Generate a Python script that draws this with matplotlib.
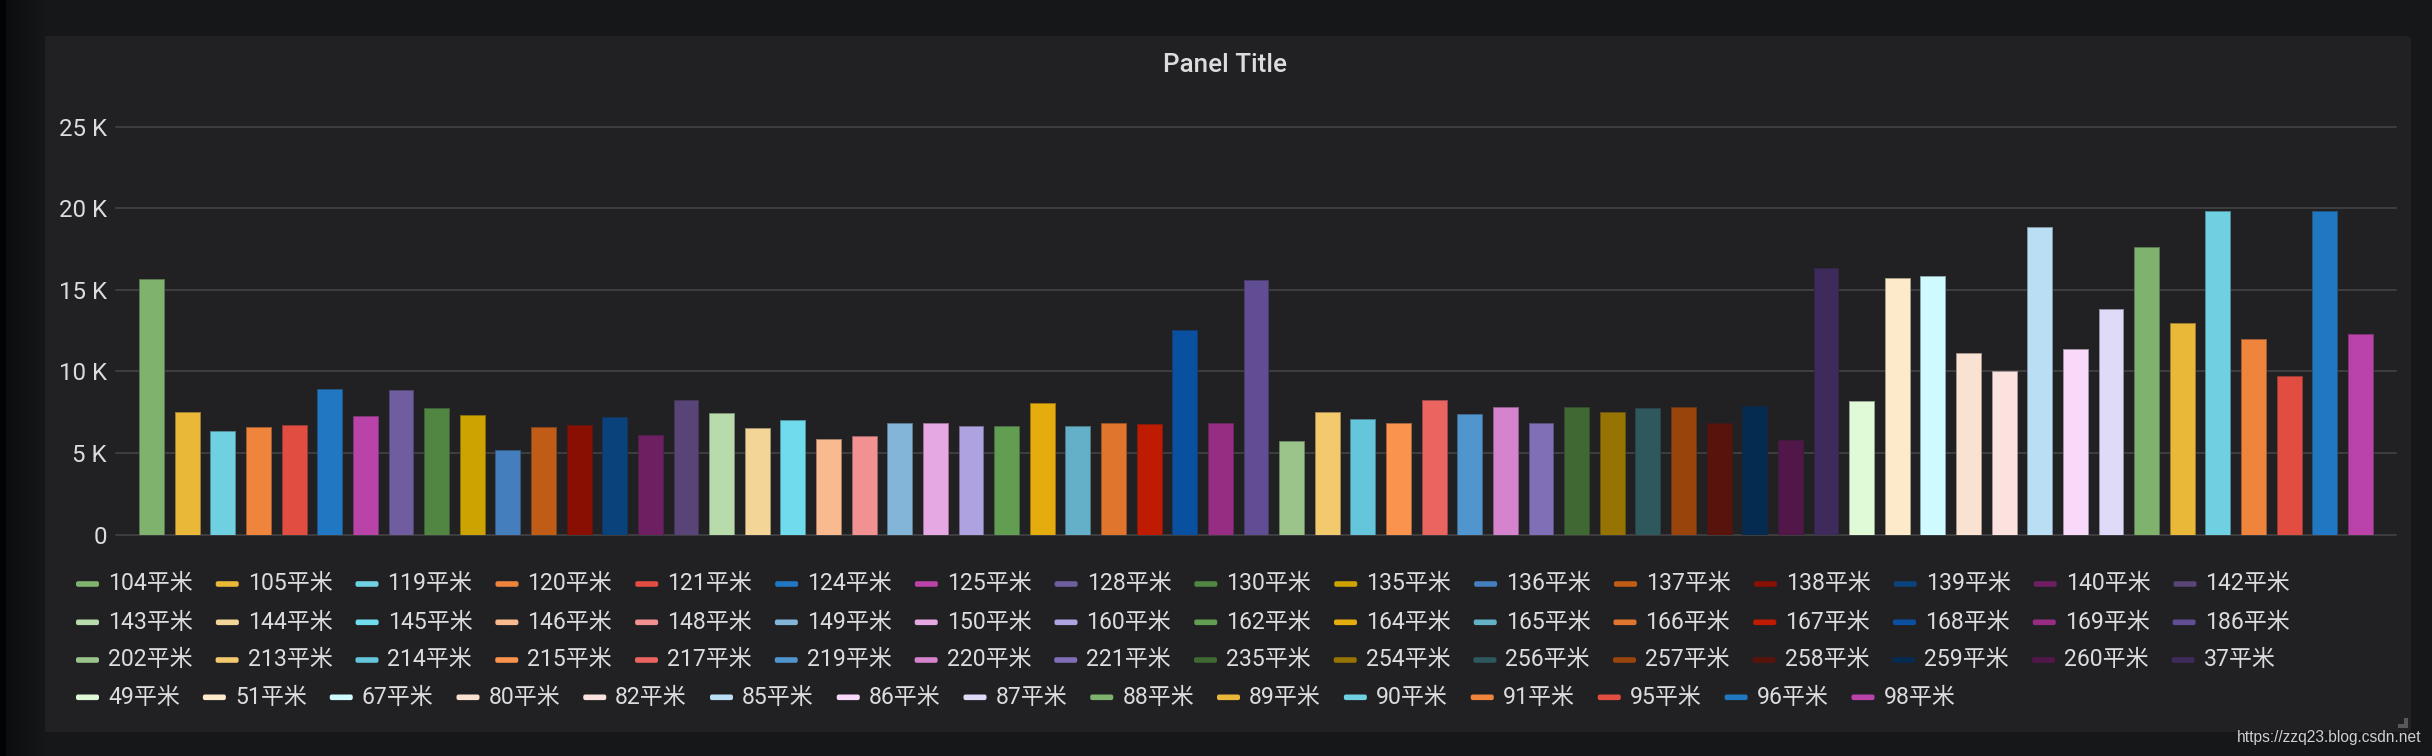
import matplotlib
matplotlib.use('Agg')
import matplotlib.pyplot as plt
import numpy as np
from matplotlib.patches import FancyBboxPatch, Polygon
from matplotlib.ticker import FuncFormatter
import matplotlib.colors as mcolors
import matplotlib.transforms as mtransforms

# ---------------- data ----------------
categories = ['104平米', '105平米', '119平米', '120平米', '121平米', '124平米', '125平米', '128平米',
              '130平米', '135平米', '136平米', '137平米', '138平米', '139平米', '140平米', '142平米',
              '143平米', '144平米', '145平米', '146平米', '148平米', '149平米', '150平米', '160平米',
              '162平米', '164平米', '165平米', '166平米', '167平米', '168平米', '169平米', '186平米',
              '202平米', '213平米', '214平米', '215平米', '217平米', '219平米', '220平米', '221平米',
              '235平米', '254平米', '256平米', '257平米', '258平米', '259平米', '260平米', '37平米',
              '49平米', '51平米', '67平米', '80平米', '82平米', '85平米', '86平米', '87平米',
              '88平米', '89平米', '90平米', '91平米', '95平米', '96平米', '98平米']

values = [15670, 7490, 6350, 6570, 6720, 8930, 7270, 8890,
          7750, 7330, 5190, 6570, 6720, 7220, 6130, 8250,
          7470, 6520, 7000, 5870, 6060, 6870, 6850, 6680,
          6650, 8060, 6650, 6830, 6760, 12540, 6850, 15590,
          5710, 7490, 7070, 6830, 8250, 7380, 7820, 6830,
          7820, 7510, 7790, 7820, 6870, 7860, 5800, 16350,
          8210, 15740, 15870, 11160, 10050, 18870, 11400, 13840,
          17660, 12960, 19810, 12000, 9720, 19830, 12300]

colors = ['#7EB26D', '#EAB839', '#6ED0E0', '#EF843C', '#E24D42', '#1F78C1', '#BA43A9', '#705DA0',
          '#508642', '#CCA300', '#447EBC', '#C15C17', '#890F02', '#0A437C', '#6D1F62', '#584477',
          '#B7DBAB', '#F4D598', '#70DBED', '#F9BA8F', '#F29191', '#82B5D8', '#E5A8E2', '#AEA2E0',
          '#629E51', '#E5AC0E', '#64B0C8', '#E0752D', '#BF1B00', '#0A50A1', '#962D82', '#614D93',
          '#9AC48A', '#F2C96D', '#65C5DB', '#F9934E', '#EA6460', '#5195CE', '#D683CE', '#806EB7',
          '#3F6833', '#967302', '#2F575E', '#99440A', '#58140C', '#052B51', '#511749', '#3F2B5B',
          '#E0F9D7', '#FCEACA', '#CFFAFF', '#F9E2D2', '#FCE2DE', '#BADFF4', '#F9D9F9', '#DEDAF7',
          '#7EB26D', '#EAB839', '#6ED0E0', '#EF843C', '#E24D42', '#1F78C1', '#BA43A9']

yticks = [0, 5000, 10000, 15000, 20000, 25000]
title = 'Panel Title'
watermark = 'https://zzq23.blog.csdn.net'

# ---------------- style ----------------
W, H = 2432, 756
BG = '#161719'
PANEL = '#212124'
TEXT = '#dcdcdd'
GRID = '#444447'
FAM = ['Roboto', 'Noto Sans CJK SC', 'DejaVu Sans']
PX = 72 / 100.0  # points per pixel

fig = plt.figure(figsize=(W / 100, H / 100), dpi=100)
fig.patch.set_facecolor(BG)
ident = mtransforms.IdentityTransform()


def fx(x):
    return x / W


def fy(y):
    return 1 - y / H


# dark left strip with gradient
gax = fig.add_axes([0, 0, 45 / W, 1])
gax.set_axis_off()
grad = np.linspace(0, 1, 45)
c0 = np.array(mcolors.to_rgb('#0b0c0d'))
c1 = np.array(mcolors.to_rgb(BG))
img = c0[None, :] * (1 - grad[:, None]) + c1[None, :] * grad[:, None]
img[:6] = mcolors.to_rgb('#030303')
gax.imshow(img[None, :, :], aspect='auto', extent=[0, 1, 0, 1])

# panel background
panel = FancyBboxPatch((40, H - 732), 2371, 696, boxstyle='round,pad=0,rounding_size=4',
                       transform=ident, facecolor=PANEL, edgecolor='none', zorder=0)
fig.add_artist(panel)

# ---------------- axes ----------------
top_px, bot_px, left_px, right_px = 126.8, 534.6, 116, 2396
ax = fig.add_axes([fx(left_px), fy(bot_px), (right_px - left_px) / W, (bot_px - top_px) / H])
ax.set_facecolor('none')
bg_rgb = np.array(mcolors.to_rgb(PANEL))
edges = [tuple(0.6 * np.array(mcolors.to_rgb(c)) + 0.4 * bg_rgb) for c in colors]
x = np.arange(len(values))
ax.bar(x, values, width=0.7, color=colors, edgecolor=edges, linewidth=1.0 * PX, zorder=3)
ax.set_xlim(-1, len(values))
ax.set_ylim(0, 25000)
ax.set_yticks(yticks)
ax.set_xticks([])


def kfmt(v, pos):
    if v == 0:
        return '0'
    return f'{int(v / 1000)} K'


ax.yaxis.set_major_formatter(FuncFormatter(kfmt))
ax.yaxis.grid(True, color=GRID, linewidth=1.6 * PX)
ax.set_axisbelow(True)
for s in ax.spines.values():
    s.set_visible(False)
ax.tick_params(axis='y', length=0, pad=9 * PX, labelsize=24 * PX, labelcolor=TEXT)
for lab in ax.get_yticklabels():
    lab.set_family(FAM)
for gl in ax.get_ygridlines():
    gl.set_clip_on(False)

# title
fig.text(fx(1225), fy(64.6), title, ha='center', va='center', fontsize=26 * PX,
         fontweight='medium', color=TEXT, family=FAM)

# ---------------- legend (flow layout) ----------------
renderer = fig.canvas.get_renderer()
row_y = [584, 622.3, 660, 697.3]
per_row = 16
for i, (lab, col) in enumerate(zip(categories, colors)):
    r = i // per_row
    if i % per_row == 0:
        cx = 76
    yc = row_y[r]
    sw = FancyBboxPatch((cx, H - yc - 2.8), 23, 5.6, boxstyle='round,pad=0,rounding_size=2',
                        transform=ident, facecolor=col, edgecolor='none', zorder=2)
    fig.add_artist(sw)
    t = fig.text(fx(cx + 32), fy(yc), lab, ha='left', va='center', fontsize=23 * PX,
                 color=TEXT, family=FAM)
    bb = t.get_window_extent(renderer)
    cx = bb.x1 + 23

# watermark and resize glyph
fig.text(fx(2421), fy(741.7), watermark, ha='right', va='baseline', fontsize=15.5 * PX,
         color='#cfcfd0', family=['Liberation Sans', 'DejaVu Sans'])
glyph = Polygon([(2404, H - 718), (2408, H - 718), (2408, H - 728), (2398, H - 728),
                 (2398, H - 724), (2404, H - 724)], closed=True, transform=ident,
                facecolor='#58585b', edgecolor='none')
fig.add_artist(glyph)

fig.savefig('out.png', dpi=100, facecolor=BG)
